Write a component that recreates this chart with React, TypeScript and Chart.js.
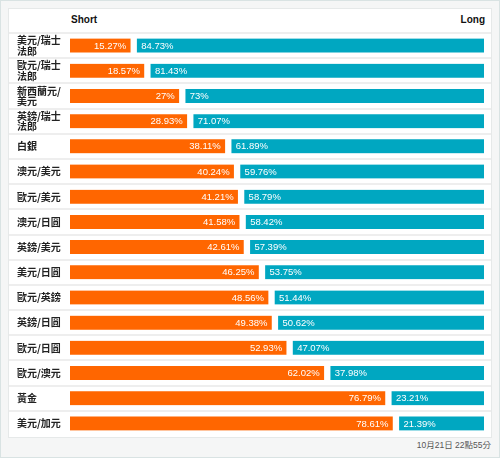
import React, { useEffect, useRef } from "react";
import { Chart, registerables } from "chart.js";

Chart.register(...registerables);

const categories: string[][] = [
  ["美元/瑞士", "法郎"],
  ["歐元/瑞士", "法郎"],
  ["新西蘭元/", "美元"],
  ["英鎊/瑞士", "法郎"],
  ["白銀"],
  ["澳元/美元"],
  ["歐元/美元"],
  ["澳元/日圓"],
  ["英鎊/美元"],
  ["美元/日圓"],
  ["歐元/英鎊"],
  ["英鎊/日圓"],
  ["歐元/日圓"],
  ["歐元/澳元"],
  ["黃金"],
  ["美元/加元"],
];

const shortValues: number[] = [
  15.27, 18.57, 27, 28.93, 38.11, 40.24, 41.21, 41.58, 42.61, 46.25, 48.56, 49.38, 52.93, 62.02, 76.79, 78.61,
];

const longValues: number[] = [
  84.73, 81.43, 73, 71.07, 61.89, 59.76, 58.79, 58.42, 57.39, 53.75, 51.44, 50.62, 47.07, 37.98, 23.21, 21.39,
];

const seriesNames: string[] = ["Short", "Long"];
const timestamp = "10月21日 22點55分";

const ORANGE = "#ff6600";
const TEAL = "#00a7c1";

const rowLines = {
  id: "rowLines",
  beforeDatasetsDraw(chart: any) {
    const y = chart.scales.y;
    const n = categories.length;
    const step = (y.getPixelForValue(n - 1) - y.getPixelForValue(0)) / (n - 1);
    const ctx = chart.ctx;
    ctx.save();
    ctx.strokeStyle = "#eeeeee";
    ctx.lineWidth = 2;
    for (let i = 0; i < n; i++) {
      const yy = Math.round(y.getPixelForValue(0) - step / 2 + i * step);
      ctx.beginPath();
      ctx.moveTo(0, yy);
      ctx.lineTo(chart.width, yy);
      ctx.stroke();
    }
    ctx.restore();
  },
};

const valueLabels = {
  id: "valueLabels",
  afterDatasetsDraw(chart: any) {
    const ctx = chart.ctx;
    const m0 = chart.getDatasetMeta(0);
    const m1 = chart.getDatasetMeta(1);
    ctx.save();
    ctx.font = '9.5px "Liberation Sans", Arial, sans-serif';
    ctx.fillStyle = "#ffffff";
    ctx.textBaseline = "middle";
    m0.data.forEach((el: any, i: number) => {
      ctx.textAlign = "right";
      ctx.fillText(`${shortValues[i]}%`, el.x - 7, el.y + 0.5);
    });
    m1.data.forEach((el: any, i: number) => {
      ctx.textAlign = "left";
      ctx.fillText(`${longValues[i]}%`, el.base + 8, el.y + 0.5);
    });
    ctx.restore();
  },
};

function BarChart() {
  const ref = useRef<HTMLCanvasElement | null>(null);
  useEffect(() => {
    if (!ref.current) return;
    const chart = new Chart(ref.current, {
      type: "bar",
      data: {
        labels: categories as any,
        datasets: [
          {
            label: seriesNames[0],
            data: shortValues,
            backgroundColor: ORANGE,
            borderColor: "#ffffff",
            borderWidth: { top: 0, bottom: 0, left: 0, right: 3 },
            borderSkipped: false,
            barThickness: 14,
          } as any,
          {
            label: seriesNames[1],
            data: longValues,
            backgroundColor: TEAL,
            borderColor: "#ffffff",
            borderWidth: { top: 0, bottom: 0, left: 4, right: 0 },
            borderSkipped: false,
            barThickness: 14,
          } as any,
        ],
      },
      options: {
        indexAxis: "y",
        responsive: false,
        maintainAspectRatio: false,
        animation: false,
        layout: { padding: { left: 8, right: 7, top: 1, bottom: 1 } },
        plugins: {
          legend: { display: false },
          tooltip: { enabled: false },
          title: { display: false },
        },
        scales: {
          x: { stacked: true, min: 0, max: 100, display: false },
          y: {
            stacked: true,
            grid: { display: false },
            border: { display: false },
            ticks: {
              crossAlign: "far",
              padding: 0,
              color: "#222222",
              font: {
                family: "'Noto Sans CJK TC', 'Noto Sans', sans-serif",
                size: 10,
                weight: "bold",
                lineHeight: 1.05,
              },
            },
            afterFit: (s: any) => {
              s.width = 53;
              s.paddingTop = 0;
              s.paddingBottom = 0;
            },
          } as any,
        },
      },
      plugins: [rowLines, valueLabels],
    });
    return () => chart.destroy();
  }, []);
  return (
    <canvas
      ref={ref}
      width={482}
      height={405}
      style={{ position: "absolute", left: 0, top: 23, width: 482, height: 405 }}
    />
  );
}

export default function App() {
  const headStyle: React.CSSProperties = {
    position: "absolute",
    top: 5,
    fontFamily: "'Liberation Sans', Arial, sans-serif",
    fontWeight: "bold",
    fontSize: 10,
    lineHeight: "12px",
    color: "#111",
  };
  return (
    <div
      style={{
        position: "fixed",
        left: 0,
        top: 0,
        width: 500,
        height: 458,
        boxSizing: "border-box",
        border: "1px solid #d9e3e3",
        background: "#f5f6f6",
      }}
    >
      <div
        style={{
          position: "absolute",
          left: 7,
          top: 7,
          width: 484,
          height: 430,
          boxSizing: "border-box",
          border: "1px solid #e6e9e9",
          background: "#ffffff",
        }}
      >
        <div style={{ ...headStyle, left: 62 }}>{seriesNames[0]}</div>
        <div style={{ ...headStyle, right: 6 }}>{seriesNames[1]}</div>
        <BarChart />
      </div>
      <div
        style={{
          position: "absolute",
          right: 8,
          top: 438,
          fontFamily: "'Liberation Sans', 'Noto Sans CJK TC', sans-serif",
          fontSize: 8.5,
          lineHeight: "12px",
          color: "#555",
          whiteSpace: "nowrap",
        }}
      >
        {timestamp}
      </div>
    </div>
  );
}
